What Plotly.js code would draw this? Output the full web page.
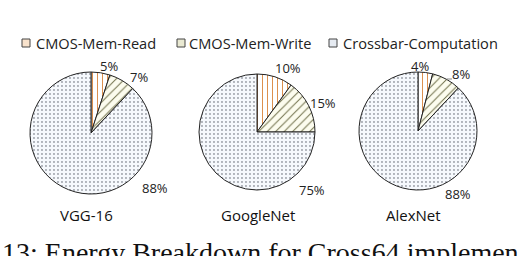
<!DOCTYPE html>
<html>
<head>
<meta charset="utf-8">
<script src="https://cdn.plot.ly/plotly-3.0.1.min.js"></script>
<style>html,body{margin:0;padding:0;background:#fff;}#chart{width:520px;height:256px;}</style>
</head>
<body>
<div id="chart"></div>
<script>
// ---- data ----
const categories = ["CMOS-Mem-Read", "CMOS-Mem-Write", "Crossbar-Computation"];
const networks = ["VGG-16", "GoogleNet", "AlexNet"];
const vggValues = [5, 7, 88];
const googleValues = [10, 15, 75];
const alexValues = [4, 8, 88];
const captionText = "13: Energy Breakdown for Cross64 implemen";

// ---- layout helpers (pixel geometry) ----
const W = 520, H = 256;
const px = x => x / W;
const py = y => 1 - y / H;
const pies = [
  {vals: vggValues, cx: 91, cy: 133, r: 61, name: networks[0], nameX: 86,
   lab: [[109, 66], [139, 77], [155, 188]]},
  {vals: googleValues, cx: 257, cy: 132, r: 58, name: networks[1], nameX: 258,
   lab: [[288, 68], [323, 103], [312, 190]]},
  {vals: alexValues, cx: 418, cy: 131, r: 59, name: networks[2], nameX: 413,
   lab: [[420, 66], [461, 74], [458, 194]]}
];
const legendSymX = [22, 177, 329];
const legendTextX = [36, 189, 343];
const legendY = 43;

const sansFamily = "'Open Sans', Lato, sans-serif";
const labelFont = {family: sansFamily, size: 13, color: "#222"};

const pattern = {
  shape: ["|", "/", "."],
  fgcolor: ["#d8833a", "#6e6e48", "#4a505c"],
  bgcolor: ["#ffffff", "#fcfcee", "#f6f9fd"],
  size: [5, 6, 4],
  solidity: [0.18, 0.16, 0.1],
  fillmode: "replace"
};
const swatchFill = ["#f8e2cc", "#e9e9d2", "#e6ebf2"];

const traces = pies.map(p => ({
  type: "pie",
  labels: categories,
  values: p.vals,
  sort: false,
  direction: "clockwise",
  rotation: 0,
  textinfo: "none",
  hoverinfo: "label+percent",
  showlegend: false,
  marker: {
    colors: pattern.bgcolor,
    line: {color: "#222", width: 1},
    pattern: pattern
  },
  domain: {x: [px(p.cx - p.r), px(p.cx + p.r)], y: [py(p.cy + p.r), py(p.cy - p.r)]}
}));

const annotations = [];
const shapes = [];
pies.forEach(p => {
  p.vals.forEach((v, j) => {
    annotations.push({
      xref: "paper", yref: "paper", x: px(p.lab[j][0]), y: py(p.lab[j][1]),
      text: v + "%", showarrow: false, xanchor: "center", yanchor: "middle",
      font: labelFont
    });
  });
  annotations.push({
    xref: "paper", yref: "paper", x: px(p.nameX), y: py(215),
    text: p.name, showarrow: false, xanchor: "center", yanchor: "middle",
    font: {family: sansFamily, size: 15, color: "#111"}
  });
});
// short leader line beside AlexNet's second label
shapes.push({
  type: "line", xref: "paper", yref: "paper",
  x0: px(447), x1: px(452), y0: py(79), y1: py(79),
  line: {color: "#888", width: 1}
});
categories.forEach((c, j) => {
  shapes.push({
    type: "rect", xref: "paper", yref: "paper",
    x0: px(legendSymX[j]), x1: px(legendSymX[j] + 8),
    y0: py(legendY + 4), y1: py(legendY - 4),
    fillcolor: swatchFill[j], line: {color: "#444", width: 1}
  });
  annotations.push({
    xref: "paper", yref: "paper", x: px(legendTextX[j]), y: py(legendY),
    text: c, showarrow: false, xanchor: "left", yanchor: "middle",
    xshift: -2, font: {family: sansFamily, size: 14.6, color: "#222"}
  });
});
annotations.push({
  xref: "paper", yref: "paper", x: px(0), y: py(252),
  text: captionText, showarrow: false, xanchor: "left", yanchor: "middle",
  font: {family: "'Liberation Serif', 'DejaVu Serif', serif", size: 28, color: "#111"}
});

const layout = {
  width: W, height: H,
  margin: {l: 0, r: 0, t: 0, b: 0},
  paper_bgcolor: "#fff",
  showlegend: false,
  shapes: shapes,
  annotations: annotations
};

Plotly.newPlot("chart", traces, layout, {displayModeBar: false, staticPlot: true});
</script>
</body>
</html>
